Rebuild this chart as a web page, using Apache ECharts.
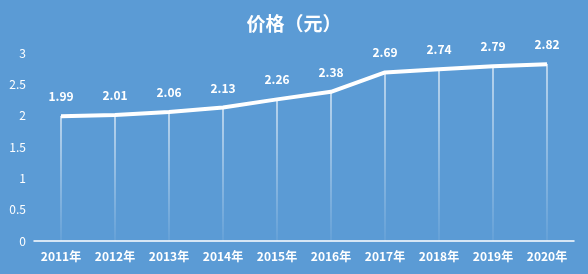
<!DOCTYPE html>
<html><head><meta charset="utf-8">
<script src="https://cdn.jsdelivr.net/npm/echarts@6/dist/echarts.min.js"></script>
<style>html,body{margin:0;padding:0;background:#5b9bd5;}#c{width:588px;height:274px;}</style>
</head><body><div id="c"></div>
<script>
const categories = ['2011年','2012年','2013年','2014年','2015年','2016年','2017年','2018年','2019年','2020年'];
const prices = [1.99, 2.01, 2.06, 2.13, 2.26, 2.38, 2.69, 2.74, 2.79, 2.82];
const yTicks = [0, 0.5, 1, 1.5, 2, 2.5, 3];
const chart = echarts.init(document.getElementById('c'));
const font = '"Noto Sans CJK SC", "Open Sans", sans-serif';
chart.setOption({
  backgroundColor: '#5b9bd5',
  animation: false,
  title: {
    text: '价格（元）', left: 'center', top: 9,
    textStyle: {color: '#fff', fontSize: 19, fontWeight: 'bold', fontFamily: font}
  },
  grid: {left: 34, right: 14, top: 53, bottom: 33},
  xAxis: {
    type: 'category', data: categories,
    axisLine: {lineStyle: {color: '#fff', width: 1.5}},
    axisTick: {show: false},
    axisLabel: {color: '#fff', fontSize: 12, fontWeight: 'bold', fontFamily: font, margin: 9}
  },
  yAxis: {
    type: 'value', min: 0, max: 3, interval: 0.5,
    axisLine: {show: false}, axisTick: {show: false},
    splitLine: {show: false},
    axisLabel: {color: '#fff', fontSize: 12, fontFamily: font, margin: 8,
      formatter: v => yTicks.includes(v) ? String(v) : ''}
  },
  series: [
    {
      type: 'bar', data: prices, barWidth: 1.2, silent: true,
      itemStyle: {color: new echarts.graphic.LinearGradient(0, 0, 0, 1, [
        {offset: 0, color: 'rgba(255,255,255,0.95)'},
        {offset: 1, color: 'rgba(255,255,255,0.1)'}
      ])}
    },
    {
      type: 'line', data: prices, symbol: 'circle', symbolSize: 1, showSymbol: true,
      itemStyle: {color: '#fff'},
      lineStyle: {color: '#fff', width: 4},
      label: {show: true, position: 'top', distance: 13, color: '#fff', fontSize: 12,
        fontWeight: 'bold', fontFamily: font, formatter: p => p.value.toFixed(2)},
      labelLayout: {hideOverlap: false}
    }
  ]
});
</script></body></html>
